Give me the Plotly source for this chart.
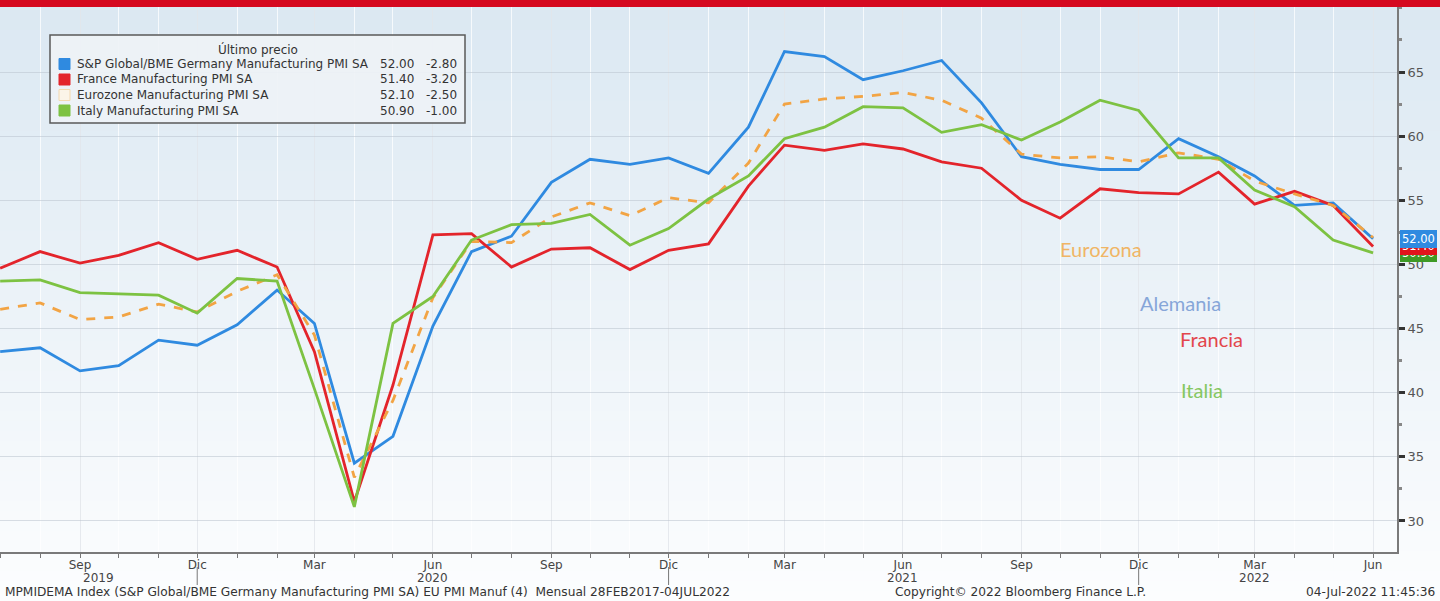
import plotly.graph_objects as go
import pandas as pd

# ---------------- data ----------------
months = pd.date_range("2019-07-01", periods=36, freq="MS")

germany = [43.2, 43.5, 41.7, 42.1, 44.1, 43.7, 45.3, 48.0, 45.4, 34.5, 36.6, 45.2,
           51.0, 52.2, 56.4, 58.2, 57.8, 58.3, 57.1, 60.7, 66.6, 66.2, 64.4, 65.1,
           65.9, 62.6, 58.4, 57.8, 57.4, 57.4, 59.8, 58.4, 56.9, 54.6, 54.8, 52.0]
france = [49.7, 51.0, 50.1, 50.7, 51.7, 50.4, 51.1, 49.8, 43.2, 31.5, 40.6, 52.3,
          52.4, 49.8, 51.2, 51.3, 49.6, 51.1, 51.6, 56.1, 59.3, 58.9, 59.4, 59.0,
          58.0, 57.5, 55.0, 53.6, 55.9, 55.6, 55.5, 57.2, 54.7, 55.7, 54.6, 51.4]
eurozone = [46.5, 47.0, 45.7, 45.9, 46.9, 46.3, 47.9, 49.2, 44.5, 33.4, 39.4, 47.4,
            51.8, 51.7, 53.7, 54.8, 53.8, 55.2, 54.8, 57.9, 62.5, 62.9, 63.1, 63.4,
            62.8, 61.4, 58.6, 58.3, 58.4, 58.0, 58.7, 58.2, 56.5, 55.5, 54.6, 52.1]
italy = [48.7, 48.8, 47.8, 47.7, 47.6, 46.2, 48.9, 48.7, 40.3, 31.1, 45.4, 47.5,
         51.9, 53.1, 53.2, 53.9, 51.5, 52.8, 55.1, 56.9, 59.8, 60.7, 62.3, 62.2,
         60.3, 60.9, 59.7, 61.1, 62.8, 62.0, 58.3, 58.3, 55.8, 54.5, 51.9, 50.9]

legend_names = ["S&amp;P Global/BME Germany Manufacturing PMI SA",
                "France Manufacturing PMI SA",
                "Eurozone Manufacturing PMI SA",
                "Italy Manufacturing PMI SA"]
legend_last = ["52.00", "51.40", "52.10", "50.90"]
legend_chg = ["-2.80", "-3.20", "-2.50", "-1.00"]

tick_dates = ["2019-09-01", "2019-12-01", "2020-03-01", "2020-06-01", "2020-09-01",
              "2020-12-01", "2021-03-01", "2021-06-01", "2021-09-01", "2021-12-01",
              "2022-03-01", "2022-06-01"]
tick_labels = ["Sep", "Dic", "Mar", "Jun", "Sep", "Dic", "Mar", "Jun", "Sep", "Dic",
               "Mar", "Jun"]
year_labels = ["2019", "2020", "2021", "2022"]
year_pos = ["2019-09-15", "2020-06-01", "2021-06-01", "2022-03-01"]
year_breaks = ["2019-12-01", "2020-12-01", "2021-12-01"]

y_ticks = [30, 35, 40, 45, 50, 55, 60, 65]
y_minor = [27.5, 32.5, 37.5, 42.5, 47.5, 52.5, 57.5, 62.5, 67.5, 70]

# ---------------- layout geometry ----------------
W, H = 1440, 601
L, R, T, B = 0, 43, 7, 49
PW = W - L - R
PH = H - T - B


def xp(px):
    return (px - L) / PW


def yp(py):
    return (H - B - py) / PH


C_DE = "#2f8ae0"
C_FR = "#e3242b"
C_EZ = "#f2a444"
C_IT = "#7dc242"

fig = go.Figure()
fig.add_trace(go.Scatter(x=months, y=germany, mode="lines", line=dict(color=C_DE, width=2.8)))
fig.add_trace(go.Scatter(x=months, y=france, mode="lines", line=dict(color=C_FR, width=2.8)))
fig.add_trace(go.Scatter(x=months, y=eurozone, mode="lines", line=dict(color=C_EZ, width=2.8, dash="dash")))
fig.add_trace(go.Scatter(x=months, y=italy, mode="lines", line=dict(color=C_IT, width=2.8)))

shapes = []
# background gradient
nb = 60
top_rgb = (219, 232, 242)
bot_rgb = (252, 253, 254)
for i in range(nb):
    t = i / (nb - 1)
    c = tuple(int(round(top_rgb[k] + (bot_rgb[k] - top_rgb[k]) * t)) for k in range(3))
    py0 = H * i / nb
    py1 = H * (i + 1) / nb + 1
    shapes.append(dict(type="rect", xref="paper", yref="paper", x0=xp(-2), x1=xp(W + 2),
                       y0=yp(py1), y1=yp(py0), fillcolor="rgb(%d,%d,%d)" % c,
                       line=dict(width=0), layer="below"))
# red bar at top
shapes.append(dict(type="rect", xref="paper", yref="paper", x0=xp(-2), x1=xp(W + 2),
                   y0=yp(7), y1=yp(-2), fillcolor="#d5081f", line=dict(width=0), layer="above"))
# year separators
for d in year_breaks:
    shapes.append(dict(type="line", xref="x", yref="paper", x0=d, x1=d,
                       y0=yp(585), y1=yp(567), line=dict(color="#777", width=1)))
# legend box
shapes.append(dict(type="rect", xref="paper", yref="paper", x0=xp(50), x1=xp(465),
                   y0=yp(123), y1=yp(35), fillcolor="rgba(238,242,246,0.92)",
                   line=dict(color="#5a5a5a", width=1.5), layer="above"))
sw_fill = [C_DE, C_FR, "#fbf4e8", C_IT]
sw_line = [C_DE, C_FR, "#f3d9b0", C_IT]
rows_y = [64, 79.5, 95, 110.5]
for i in range(4):
    shapes.append(dict(type="rect", xref="paper", yref="paper", x0=xp(59), x1=xp(70),
                       y0=yp(rows_y[i] + 5.5), y1=yp(rows_y[i] - 5.5),
                       fillcolor=sw_fill[i], line=dict(color=sw_line[i], width=1), layer="above"))

annotations = []
LF = dict(family="DejaVu Sans", size=12, color="#333")
annotations.append(dict(xref="paper", yref="paper", x=xp(258), y=yp(50), text="Último precio",
                        showarrow=False, xanchor="center", yanchor="middle", font=LF))
for i in range(4):
    annotations.append(dict(xref="paper", yref="paper", x=xp(75), y=yp(rows_y[i]), text=legend_names[i],
                            showarrow=False, xanchor="left", yanchor="middle", font=LF))
    annotations.append(dict(xref="paper", yref="paper", x=xp(416), y=yp(rows_y[i]), text=legend_last[i],
                            showarrow=False, xanchor="right", yanchor="middle", font=LF))
    annotations.append(dict(xref="paper", yref="paper", x=xp(459), y=yp(rows_y[i]), text=legend_chg[i],
                            showarrow=False, xanchor="right", yanchor="middle", font=LF))

# in-chart labels
LBF = "Lato"
annotations += [
    dict(xref="paper", yref="paper", x=xp(1101), y=yp(249), text="Eurozona", showarrow=False,
         xanchor="center", yanchor="middle", font=dict(family=LBF, size=20, color="#f0b565")),
    dict(xref="paper", yref="paper", x=xp(1180), y=yp(303), text="Alemania", showarrow=False,
         xanchor="center", yanchor="middle", font=dict(family=LBF, size=20, color="#86a6d8")),
    dict(xref="paper", yref="paper", x=xp(1211), y=yp(339), text="Francia", showarrow=False,
         xanchor="center", yanchor="middle", font=dict(family=LBF, size=20, color="#e2464c")),
    dict(xref="paper", yref="paper", x=xp(1202), y=yp(390), text="Italia", showarrow=False,
         xanchor="center", yanchor="middle", font=dict(family=LBF, size=20, color="#86c760")),
]

# last-value tags on right axis
tag_vals = [italy[-1], france[-1], germany[-1]]
tag_cols = ["#3f9a26", "#e0141c", "#2f8ae0"]
for v, c in zip(tag_vals, tag_cols):
    annotations.append(dict(xref="paper", yref="y", x=xp(1400), y=v, text="%.2f" % v,
                            showarrow=False, xanchor="left", yanchor="middle",
                            bgcolor=c, bordercolor=c, borderwidth=1, borderpad=1,
                            font=dict(family="DejaVu Sans", size=11.5, color="white")))

# year labels
for lab, d in zip(year_labels, year_pos):
    annotations.append(dict(xref="x", yref="paper", x=d, y=yp(578), text=lab, showarrow=False,
                            xanchor="center", yanchor="middle",
                            font=dict(family="DejaVu Sans", size=12, color="#444")))

# footer
FF = dict(family="DejaVu Sans", size=12.2, color="#333")
annotations += [
    dict(xref="paper", yref="paper", x=xp(3), y=yp(592), xanchor="left", yanchor="middle", showarrow=False,
         text="MPMIDEMA Index (S&amp;P Global/BME Germany Manufacturing PMI SA) EU PMI Manuf (4)  Mensual 28FEB2017-04JUL2022",
         font=FF),
    dict(xref="paper", yref="paper", x=xp(893), y=yp(592), xanchor="left", yanchor="middle", showarrow=False,
         text="Copyright© 2022 Bloomberg Finance L.P.", font=FF),
    dict(xref="paper", yref="paper", x=xp(1437), y=yp(592), xanchor="right", yanchor="middle", showarrow=False,
         text="04-Jul-2022 11:45:36", font=FF),
]

fig.update_layout(
    width=W, height=H,
    margin=dict(l=L, r=R, t=T, b=B, pad=0),
    paper_bgcolor="white",
    plot_bgcolor="rgba(0,0,0,0)",
    showlegend=False,
    hovermode=False,
    shapes=shapes,
    annotations=annotations,
    xaxis=dict(
        type="date",
        range=["2019-06-30 21:00", "2022-06-19 14:00"],
        tickmode="array", tickvals=tick_dates, ticktext=tick_labels,
        ticks="outside", ticklen=4, tickwidth=1, tickcolor="#777",
        ticklabelstandoff=-3,
        tickfont=dict(family="DejaVu Sans", size=12, color="#444"),
        showgrid=True, gridcolor="rgba(185,195,205,0.35)", gridwidth=1,
        showline=True, linecolor="#7a7a7a", linewidth=2,
        minor=dict(tickmode="array", tickvals=list(months), ticks="outside", ticklen=4,
                   tickcolor="#777", showgrid=True, gridcolor="rgba(255,255,255,0.75)", gridwidth=1),
        zeroline=False, fixedrange=True,
    ),
    yaxis=dict(
        side="right",
        range=[27.58, 70.07],
        tickmode="array", tickvals=y_ticks,
        ticks="outside", ticklen=6, tickwidth=3, tickcolor="#333",
        tickfont=dict(family="DejaVu Sans", size=13, color="#555"),
        showgrid=True, gridcolor="rgba(185,195,205,0.55)", gridwidth=1,
        showline=True, linecolor="#7a7a7a", linewidth=2,
        minor=dict(tickmode="array", tickvals=y_minor, ticks="outside", ticklen=3,
                   tickcolor="#888", showgrid=False),
        zeroline=False, fixedrange=True,
    ),
)

fig.write_html("out.html", config={"displayModeBar": False},
               post_script="document.body.style.margin='0';document.body.style.overflow='hidden';")
